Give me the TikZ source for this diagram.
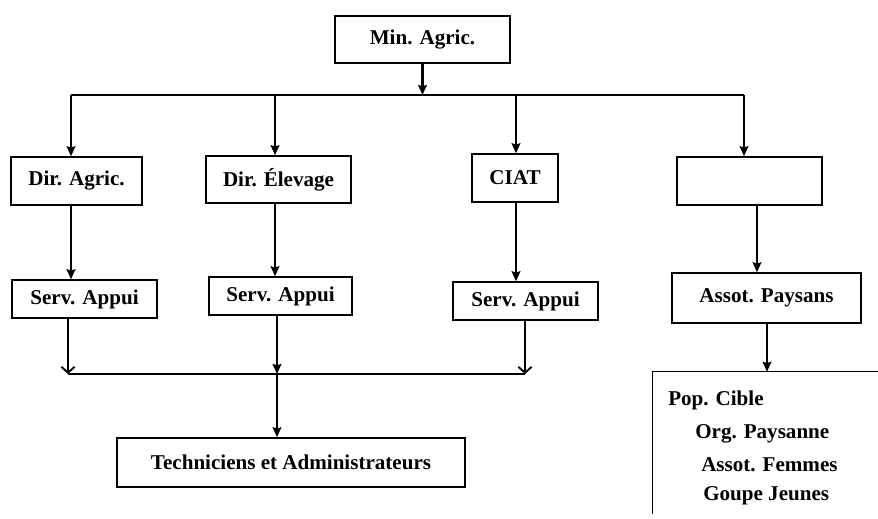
\documentclass[tikz,border=0pt]{standalone}
\usepackage{fontspec}
\setmainfont{Liberation Serif}
\usetikzlibrary{arrows.meta,fit,calc}
\begin{document}
\begin{tikzpicture}[x=0.75pt,y=-0.75pt,
  fnt/.style={font=\fontsize{15.8pt}{18pt}\selectfont\bfseries},
  box/.style={draw,line width=1.1pt,inner sep=0pt},
  lbl/.style={label={[fnt,inner sep=0pt]center:#1}},
  txt/.style={fnt,inner sep=0pt,anchor=west},
  conn/.style={line width=1.7pt},
  arr/.style={conn,-{Stealth[length=7.5pt,width=6.5pt,inset=1pt]}},
  openarr/.style={conn,-{Straight Barb[length=4.5pt,width=10pt,line width=1.4pt]}}]
\useasboundingbox (0,0) rectangle (878,518);
% boxes
\node[box,fit={(335,16) (510,63)},lbl={Min. Agric.}] (min) {};
\node[box,fit={(11,157) (142,205)},lbl={Dir. Agric.}] (dagr) {};
\node[box,fit={(206,156) (351,203)},lbl={Dir. Élevage}] (delev) {};
\node[box,fit={(472,154) (558,202)},lbl={CIAT}] (ciat) {};
\node[box,fit={(677,157) (822,205)}] (empty) {};
\node[box,fit={(12,280) (157,318)},lbl={Serv. Appui}] (serva) {};
\node[box,fit={(209,277) (352,315)},lbl={Serv. Appui}] (servb) {};
\node[box,fit={(453,282) (598,320)},lbl={Serv. Appui}] (servc) {};
\node[box,fit={(672,273) (861,323)},lbl={Assot. Paysans}] (assot) {};
\node[box,fit={(117,438) (465,487)},lbl={Techniciens et Administrateurs}] (tech) {};
\node[inner sep=0pt,fit={(653,372) (878,518)}] (pop) {};
\draw[line width=1.1pt] (pop.north east) -- (pop.north west) -- ($(pop.south west)+(0,-4)$);
\node[txt] (popa) at (668,400) {Pop. Cible};
\node[txt] (popb) at (695,434) {Org. Paysanne};
\node[txt] (popc) at (701,465) {Assot. Femmes};
\node[txt] (popd) at (703,496) {Goupe Jeunes};
% coordinates
\coordinate (t1) at (71,95);
\coordinate (t2) at (275,95);
\coordinate (t3) at (516,95);
\coordinate (t4) at (744,95);
\coordinate (a4) at (757,0);
\coordinate (p4) at (767,0);
\coordinate (b1) at (68,374);
\coordinate (b2) at (277,374);
\coordinate (b3) at (525,374);
% top
\draw[arr] (min.south) -- (min.south |- t1);
\draw[conn] (t1) -- (t4);
\draw[arr] (t1) -- (t1 |- dagr.north);
\draw[arr] (t2) -- (t2 |- delev.north);
\draw[arr] (t3) -- (t3 |- ciat.north);
\draw[arr] (t4) -- (t4 |- empty.north);
% middle
\draw[arr] (dagr.south -| t1) -- (t1 |- serva.north);
\draw[arr] (delev.south -| t2) -- (t2 |- servb.north);
\draw[arr] (ciat.south -| t3) -- (t3 |- servc.north);
\draw[arr] (empty.south -| a4) -- (a4 |- assot.north);
\draw[arr] (assot.south -| p4) -- (p4 |- pop.north);
% bottom
\draw[openarr] (serva.south -| b1) -- (b1);
\draw[arr] (servb.south -| b2) -- (b2);
\draw[openarr] (servc.south -| b3) -- (b3);
\draw[conn] (b1) -- (b3);
\draw[arr] (b2) -- (b2 |- tech.north);
\end{tikzpicture}
\end{document}
